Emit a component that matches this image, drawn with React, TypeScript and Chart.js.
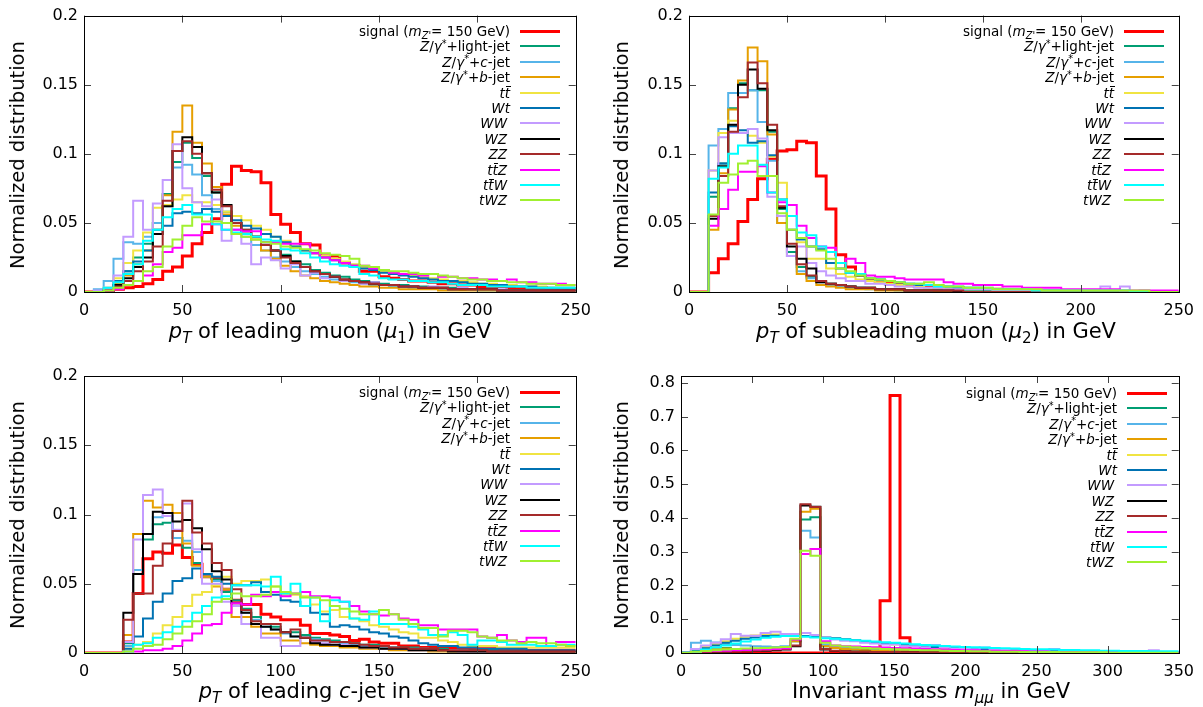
import React, { useEffect, useRef } from 'react';
import { Chart, registerables } from 'chart.js';

Chart.register(...registerables);
Chart.defaults.font.family = 'DejaVu Sans';
Chart.defaults.color = '#000';

// ---------- series meta ----------
const seriesNames = ['signal', 'Z/γ*+light-jet', 'Z/γ*+c-jet', 'Z/γ*+b-jet', 'tt̄', 'Wt', 'WW', 'WZ', 'ZZ', 'tt̄Z', 'tt̄W', 'tWZ'];
const seriesColors = ['#ff0000', '#009e73', '#56b4e9', '#e69f00', '#f0e442', '#0072b2', '#c39bff', '#000000', '#a52a2a', '#ff00ff', '#00ffff', '#a0f030'];

// ---------- ticks ----------
const xTicksPt = [0, 50, 100, 150, 200, 250];
const xTicksMass = [0, 50, 100, 150, 200, 250, 300, 350];
const yTicksPt = [0, 0.05, 0.1, 0.15, 0.2];
const yTicksMass = [0, 0.1, 0.2, 0.3, 0.4, 0.5, 0.6, 0.7, 0.8];
const binWidthPt = 5;
const binWidthMass = 7;

// ---------- pT of leading muon ----------
const sigMu1 = [0,0,0,0.002,0.003,0.004,0.006,0.009,0.015,0.018, 0.026,0.035,0.043,0.053,0.078,0.091,0.088,0.087,0.079,0.056, 0.049,0.043,0.035,0.034,0.026,0.026,0.021,0.019,0.015,0.015, 0.011,0.010,0.009,0.008,0.008,0.007,0.006,0.006,0.005,0.005, 0.004,0.004,0.004,0.003,0.003,0.003,0.003,0.002,0.002,0.002];
const zlMu1 = [0,0,0.002,0.007,0.015,0.025,0.035,0.05,0.071,0.094, 0.108,0.097,0.084,0.072,0.058,0.05,0.045,0.04,0.036,0.03, 0.027,0.022,0.02,0.016,0.014,0.012,0.011,0.009,0.008,0.007, 0.006,0.005,0.005,0.004,0.004,0.003,0.003,0.003,0.002,0.002, 0.002,0.002,0.001,0.001,0.001,0.001,0.001,0.001,0.001,0.001];
const zcMu1 = [0,0.002,0.008,0.024,0.036,0.035,0.04,0.05,0.062,0.09, 0.092,0.085,0.07,0.06,0.05,0.045,0.04,0.034,0.03,0.025, 0.022,0.018,0.015,0.013,0.011,0.009,0.008,0.007,0.006,0.005, 0.005,0.004,0.004,0.003,0.003,0.003,0.002,0.002,0.002,0.002, 0.001,0.001,0.001,0.001,0.001,0.001,0.001,0.001,0.001,0.001];
const zbMu1 = [0,0,0.002,0.006,0.012,0.02,0.03,0.045,0.07,0.116, 0.135,0.108,0.093,0.076,0.056,0.048,0.044,0.038,0.03,0.024, 0.019,0.015,0.012,0.01,0.008,0.007,0.006,0.005,0.004,0.004, 0.003,0.003,0.002,0.002,0.002,0.002,0.001,0.001,0.001,0.001, 0.001,0.001,0.001,0.001,0.001,0.001,0,0,0,0];
const ttMu1 = [0,0,0.003,0.01,0.021,0.03,0.043,0.061,0.063,0.067, 0.07,0.065,0.065,0.063,0.058,0.055,0.052,0.048,0.045,0.04, 0.037,0.033,0.03,0.028,0.026,0.024,0.022,0.02,0.018,0.016, 0.015,0.014,0.013,0.012,0.011,0.01,0.009,0.008,0.008,0.007, 0.006,0.006,0.005,0.005,0.004,0.004,0.004,0.003,0.003,0.003];
const wtMu1 = [0,0,0.002,0.008,0.015,0.022,0.03,0.045,0.048,0.057, 0.058,0.057,0.06,0.058,0.055,0.052,0.048,0.046,0.042,0.04, 0.036,0.033,0.03,0.028,0.025,0.023,0.021,0.019,0.017,0.016, 0.014,0.013,0.012,0.011,0.01,0.009,0.008,0.008,0.007,0.006, 0.006,0.005,0.005,0.004,0.004,0.004,0.003,0.003,0.003,0.003];
const wwMu1 = [0,0.001,0.003,0.012,0.04,0.066,0.045,0.064,0.081,0.107, 0.075,0.065,0.062,0.067,0.037,0.045,0.035,0.02,0.025,0.023, 0.017,0.02,0.012,0.014,0.01,0.011,0.008,0.008,0.006,0.007, 0.005,0.005,0.004,0.004,0.003,0.004,0.003,0.002,0.003,0.002, 0.002,0.002,0.002,0.001,0.001,0.001,0.001,0.001,0.001,0.001];
const wzMu1 = [0,0,0.001,0.005,0.01,0.018,0.025,0.042,0.062,0.102, 0.112,0.105,0.086,0.072,0.063,0.05,0.044,0.04,0.034,0.03, 0.026,0.022,0.018,0.015,0.013,0.011,0.009,0.008,0.007,0.006, 0.005,0.005,0.004,0.004,0.003,0.003,0.003,0.002,0.002,0.002, 0.002,0.002,0.001,0.001,0.001,0.001,0.001,0.001,0.001,0.001];
const zzMu1 = [0,0,0.001,0.004,0.008,0.015,0.022,0.033,0.066,0.102, 0.109,0.1,0.086,0.074,0.062,0.05,0.045,0.04,0.034,0.03, 0.025,0.021,0.018,0.015,0.013,0.011,0.009,0.008,0.007,0.006, 0.005,0.005,0.004,0.004,0.003,0.003,0.003,0.002,0.002,0.002, 0.002,0.002,0.001,0.001,0.001,0.001,0.001,0.001,0.001,0.001];
const ttzMu1 = [0,0,0.001,0.002,0.005,0.008,0.012,0.02,0.029,0.032, 0.041,0.041,0.049,0.049,0.045,0.045,0.044,0.044,0.036,0.036, 0.035,0.035,0.035,0.028,0.025,0.023,0.021,0.019,0.019,0.017, 0.016,0.014,0.013,0.013,0.012,0.013,0.011,0.011,0.01,0.01, 0.009,0.009,0.008,0.009,0.007,0.007,0.006,0.006,0.006,0.005];
const ttwMu1 = [0,0,0.003,0.007,0.013,0.02,0.037,0.045,0.054,0.06, 0.063,0.056,0.056,0.049,0.045,0.043,0.042,0.04,0.038,0.037, 0.031,0.03,0.028,0.025,0.022,0.02,0.019,0.018,0.013,0.012, 0.01,0.009,0.009,0.008,0.008,0.007,0.007,0.006,0.005,0.005, 0.005,0.004,0.004,0.004,0.004,0.003,0.003,0.003,0.003,0.003];
const twzMu1 = [0,0,0.001,0.003,0.005,0.008,0.015,0.018,0.033,0.038, 0.048,0.054,0.051,0.051,0.05,0.042,0.04,0.038,0.036,0.035, 0.033,0.032,0.031,0.03,0.028,0.027,0.026,0.024,0.019,0.018, 0.016,0.015,0.015,0.014,0.013,0.013,0.012,0.011,0.01,0.009, 0.009,0.008,0.008,0.007,0.007,0.006,0.006,0.006,0.005,0.005];

// ---------- pT of subleading muon ----------
const sigMu2 = [0,0,0.014,0.024,0.035,0.051,0.067,0.082,0.096,0.102, 0.103,0.109,0.108,0.084,0.06,0.027,0.018,0.012,0.009,0.008, 0.007,0.006,0.005,0.004,0.004,0.003,0.003,0.003,0.002,0.002, 0.002,0.002,0.001,0.001,0.001,0.001,0.001,0.001,0.001,0.001, 0.001,0.001,0,0,0,0,0,0,0,0];
const zlMu2 = [0,0,0.069,0.093,0.133,0.151,0.146,0.146,0.116,0.06, 0.029,0.018,0.011,0.008,0.006,0.005,0.004,0.003,0.003,0.002, 0.002,0.002,0.001,0.001,0.001,0.001,0.001,0.001,0.001,0.001, 0.001,0,0,0,0,0,0,0,0,0, 0,0,0,0,0,0,0,0,0,0];
const zcMu2 = [0,0,0.106,0.118,0.144,0.144,0.146,0.123,0.095,0.05, 0.026,0.015,0.01,0.007,0.005,0.004,0.003,0.003,0.002,0.002, 0.002,0.001,0.001,0.001,0.001,0.001,0.001,0,0,0, 0,0,0,0,0,0,0,0,0,0, 0,0,0,0,0,0,0,0,0,0];
const zbMu2 = [0,0,0.045,0.086,0.132,0.153,0.177,0.167,0.114,0.05, 0.026,0.013,0.008,0.005,0.004,0.003,0.002,0.002,0.002,0.001, 0.001,0.001,0.001,0.001,0.001,0,0,0,0,0, 0,0,0,0,0,0,0,0,0,0, 0,0,0,0,0,0,0,0,0,0];
const ttMu2 = [0,0,0.088,0.115,0.124,0.115,0.113,0.108,0.098,0.079, 0.045,0.036,0.024,0.024,0.017,0.013,0.011,0.009,0.008,0.007, 0.006,0.005,0.004,0.004,0.003,0.003,0.003,0.002,0.002,0.002, 0.002,0.001,0.001,0.001,0.001,0.001,0.001,0.001,0.001,0.001, 0,0,0,0,0,0,0,0,0,0];
const wtMu2 = [0,0,0.072,0.093,0.12,0.117,0.108,0.109,0.099,0.067, 0.045,0.038,0.033,0.031,0.021,0.017,0.014,0.012,0.01,0.009, 0.008,0.007,0.006,0.005,0.005,0.004,0.004,0.003,0.003,0.003, 0.002,0.002,0.002,0.002,0.001,0.001,0.001,0.001,0.001,0.001, 0.001,0.001,0,0,0,0,0,0,0,0];
const wwMu2 = [0,0,0.088,0.112,0.115,0.115,0.118,0.111,0.069,0.055, 0.026,0.033,0.021,0.015,0.012,0.01,0.008,0.008,0.006,0.006, 0.005,0.004,0.004,0.003,0.003,0.003,0.002,0.002,0.002,0.002, 0.002,0.001,0.001,0.001,0.001,0.001,0.001,0.001,0.001,0.001, 0.001,0.001,0.004,0,0.004,0,0.001,0,0,0];
const wzMu2 = [0,0,0.053,0.091,0.121,0.15,0.161,0.147,0.117,0.061, 0.033,0.024,0.017,0.007,0.006,0.005,0.004,0.003,0.003,0.002, 0.002,0.002,0.001,0.001,0.001,0.001,0.001,0,0,0, 0,0,0,0,0,0,0,0,0,0, 0,0,0,0,0,0,0,0,0,0];
const zzMu2 = [0,0,0.055,0.084,0.116,0.141,0.166,0.151,0.121,0.062, 0.035,0.02,0.012,0.008,0.006,0.005,0.004,0.003,0.003,0.002, 0.002,0.002,0.001,0.001,0.001,0.001,0.001,0.001,0,0, 0,0,0,0,0,0,0,0,0,0, 0,0,0,0,0,0,0,0,0,0];
const ttzMu2 = [0,0,0.048,0.06,0.074,0.087,0.087,0.091,0.072,0.065, 0.063,0.048,0.039,0.033,0.032,0.021,0.024,0.021,0.012,0.011, 0.011,0.01,0.009,0.009,0.009,0.009,0.007,0.006,0.006,0.005, 0.005,0.005,0.004,0.004,0.003,0.003,0.003,0.003,0.002,0.002, 0.002,0.002,0.002,0.002,0.001,0.001,0.001,0.001,0.001,0.001];
const ttwMu2 = [0,0,0.082,0.09,0.1,0.106,0.106,0.092,0.072,0.067, 0.055,0.043,0.041,0.033,0.029,0.021,0.014,0.013,0.01,0.009, 0.008,0.007,0.006,0.006,0.005,0.004,0.004,0.004,0.003,0.003, 0.003,0.002,0.002,0.002,0.002,0.001,0.001,0.001,0.001,0.001, 0.001,0.001,0.001,0.001,0.001,0,0,0,0,0];
const twzMu2 = [0,0,0.056,0.079,0.085,0.093,0.095,0.084,0.084,0.057, 0.045,0.039,0.033,0.03,0.024,0.017,0.015,0.012,0.01,0.009, 0.008,0.007,0.006,0.006,0.007,0.005,0.004,0.004,0.003,0.003, 0.003,0.002,0.002,0.002,0.002,0.002,0.001,0.001,0.001,0.001, 0.001,0.001,0.001,0.001,0.001,0.001,0.001,0,0,0];

// ---------- pT of leading c-jet ----------
const sigCjet = [0,0,0,0,0.008,0.043,0.068,0.073,0.072,0.078, 0.069,0.064,0.055,0.054,0.046,0.038,0.035,0.035,0.028,0.026, 0.024,0.024,0.02,0.014,0.014,0.013,0.012,0.009,0.01,0.008, 0.007,0.007,0.005,0.005,0.004,0.004,0.004,0.004,0.003,0.003, 0.003,0.003,0.003,0.003,0.002,0.002,0.002,0.002,0.002,0.002];
const zlCjet = [0,0,0,0,0.007,0.06,0.082,0.093,0.094,0.083, 0.076,0.065,0.055,0.053,0.044,0.038,0.032,0.026,0.021,0.019, 0.015,0.015,0.013,0.011,0.01,0.009,0.008,0.007,0.006,0.006, 0.005,0.004,0.004,0.004,0.003,0.003,0.003,0.002,0.002,0.002, 0.002,0.002,0.001,0.001,0.001,0.001,0.001,0.001,0.001,0.001];
const zcCjet = [0,0,0,0,0.005,0.06,0.086,0.098,0.099,0.083, 0.081,0.073,0.055,0.052,0.046,0.034,0.029,0.024,0.019,0.017, 0.014,0.012,0.011,0.01,0.009,0.008,0.007,0.006,0.005,0.005, 0.004,0.004,0.003,0.003,0.003,0.002,0.002,0.002,0.002,0.001, 0.001,0.001,0.001,0.001,0.001,0.001,0.001,0.001,0.001,0.001];
const zbCjet = [0,0,0,0,0.013,0.086,0.11,0.105,0.107,0.101, 0.079,0.063,0.055,0.048,0.046,0.026,0.026,0.019,0.014,0.014, 0.009,0.009,0.007,0.006,0.005,0.005,0.004,0.004,0.003,0.003, 0.003,0.002,0.002,0.002,0.002,0.001,0.001,0.001,0.001,0.001, 0.001,0.001,0.001,0.001,0.001,0,0,0,0,0];
const ttCjet = [0,0,0,0,0.003,0.006,0.008,0.014,0.02,0.026, 0.034,0.042,0.044,0.049,0.055,0.05,0.052,0.052,0.053,0.048, 0.042,0.042,0.041,0.035,0.03,0.031,0.026,0.025,0.023,0.02, 0.019,0.017,0.015,0.014,0.011,0.011,0.009,0.008,0.006,0.005, 0.005,0.005,0.004,0.004,0.004,0.004,0.004,0.004,0.004,0.004];
const wtCjet = [0,0,0,0,0.003,0.012,0.025,0.037,0.043,0.052, 0.054,0.061,0.057,0.055,0.05,0.049,0.049,0.051,0.044,0.042, 0.038,0.037,0.034,0.029,0.028,0.019,0.02,0.019,0.017,0.015, 0.014,0.012,0.011,0.009,0.007,0.006,0.005,0.005,0.004,0.004, 0.003,0.003,0.003,0.003,0.003,0.002,0.002,0.002,0.002,0.002];
const wwCjet = [0,0,0,0,0.008,0.082,0.114,0.118,0.099,0.089, 0.108,0.075,0.05,0.05,0.037,0.034,0.021,0.021,0.011,0.011, 0.005,0.005,0.011,0.008,0.007,0.006,0.006,0.005,0.004,0.004, 0.003,0.003,0.003,0.002,0.002,0.002,0.002,0.002,0.001,0.001, 0.001,0.001,0.001,0.001,0.001,0.001,0.001,0.001,0.001,0.001];
const wzCjet = [0,0,0,0,0.029,0.057,0.086,0.102,0.101,0.095, 0.096,0.09,0.075,0.059,0.053,0.036,0.029,0.021,0.019,0.017, 0.015,0.012,0.011,0.007,0.006,0.006,0.005,0.005,0.004,0.004, 0.003,0.003,0.003,0.002,0.002,0.002,0.002,0.001,0.001,0.001, 0.001,0.001,0.001,0.001,0.001,0.001,0.001,0.001,0.001,0.001];
const zzCjet = [0,0,0,0,0.024,0.043,0.043,0.063,0.079,0.088, 0.11,0.087,0.079,0.065,0.06,0.046,0.031,0.023,0.021,0.021, 0.015,0.017,0.011,0.009,0.009,0.008,0.008,0.007,0.006,0.005, 0.005,0.004,0.004,0.003,0.003,0.003,0.002,0.002,0.002,0.002, 0.002,0.001,0.001,0.001,0.001,0.001,0.001,0.001,0.001,0.001];
const ttzCjet = [0,0,0,0,0.001,0.001,0.002,0.002,0.003,0.005, 0.009,0.014,0.02,0.021,0.029,0.036,0.035,0.042,0.041,0.044, 0.041,0.043,0.044,0.041,0.041,0.04,0.037,0.034,0.03,0.028, 0.027,0.028,0.025,0.024,0.02,0.02,0.017,0.017,0.017,0.017, 0.012,0.011,0.013,0.009,0.008,0.011,0.011,0.005,0.008,0.008];
const ttwCjet = [0,0,0,0,0.001,0.006,0.007,0.011,0.015,0.019, 0.023,0.029,0.034,0.04,0.041,0.049,0.049,0.049,0.048,0.055, 0.043,0.05,0.034,0.04,0.023,0.038,0.037,0.025,0.024,0.03, 0.021,0.021,0.021,0.019,0.017,0.013,0.013,0.015,0.013,0.006, 0.009,0.009,0.008,0.006,0.006,0.006,0.005,0.005,0.006,0.006];
const twzCjet = [0,0,0,0,0.001,0.003,0.005,0.006,0.01,0.014, 0.019,0.023,0.028,0.037,0.039,0.043,0.041,0.041,0.042,0.048, 0.044,0.043,0.04,0.04,0.038,0.034,0.032,0.03,0.028,0.028, 0.031,0.028,0.024,0.021,0.018,0.018,0.012,0.016,0.016,0.015, 0.012,0.011,0.009,0.009,0.007,0.008,0.007,0.007,0.006,0.005];

// ---------- invariant mass ----------
const sigMass = [0,0,0,0,0,0,0,0,0,0, 0,0,0,0,0,0,0,0,0,0.002, 0.155,0.762,0.045,0.002,0,0,0,0,0,0, 0,0,0,0,0,0,0,0,0,0, 0,0,0,0,0,0,0,0,0,0];
const zlMass = [0.001,0.008,0.012,0.014,0.015,0.012,0.01,0.012,0.011,0.012, 0.015,0.035,0.395,0.402,0.02,0.015,0.012,0.01,0.009,0.008, 0.007,0.006,0.006,0.005,0.005,0.004,0.004,0.003,0.003,0.003, 0.002,0.002,0.002,0.002,0.002,0.001,0.001,0.001,0.001,0.001, 0.001,0.001,0.001,0.001,0.001,0.001,0.001,0.001,0.001,0.001];
const zcMass = [0.002,0.03,0.036,0.031,0.026,0.024,0.022,0.02,0.019,0.018, 0.02,0.04,0.362,0.342,0.025,0.021,0.018,0.016,0.014,0.013, 0.012,0.011,0.01,0.009,0.008,0.007,0.007,0.006,0.005,0.005, 0.004,0.004,0.004,0.003,0.003,0.003,0.002,0.002,0.002,0.002, 0.002,0.001,0.001,0.001,0.001,0.001,0.001,0.001,0.001,0.001];
const zbMass = [0.001,0.006,0.01,0.012,0.013,0.012,0.011,0.01,0.01,0.011, 0.014,0.035,0.418,0.427,0.02,0.015,0.012,0.01,0.008,0.007, 0.006,0.005,0.005,0.004,0.004,0.003,0.003,0.003,0.002,0.002, 0.002,0.002,0.001,0.001,0.001,0.001,0.001,0.001,0.001,0.001, 0.001,0.001,0.001,0,0,0,0,0,0,0];
const ttMass = [0.001,0.008,0.018,0.027,0.035,0.042,0.048,0.052,0.054,0.055, 0.054,0.052,0.05,0.048,0.045,0.042,0.039,0.036,0.033,0.03, 0.027,0.025,0.023,0.021,0.019,0.017,0.016,0.014,0.013,0.012, 0.011,0.01,0.009,0.008,0.008,0.007,0.006,0.006,0.005,0.005, 0.004,0.004,0.004,0.003,0.003,0.003,0.003,0.002,0.002,0.002];
const wtMass = [0.001,0.006,0.014,0.022,0.03,0.036,0.042,0.046,0.05,0.051, 0.051,0.05,0.05,0.048,0.046,0.044,0.041,0.038,0.035,0.032, 0.029,0.027,0.025,0.022,0.02,0.018,0.017,0.015,0.014,0.013, 0.012,0.011,0.01,0.009,0.008,0.008,0.007,0.006,0.006,0.005, 0.005,0.004,0.004,0.004,0.003,0.003,0.003,0.003,0.002,0.002];
const wwMass = [0.001,0.012,0.022,0.03,0.041,0.056,0.051,0.051,0.059,0.063, 0.056,0.056,0.059,0.053,0.046,0.04,0.036,0.035,0.03,0.028, 0.025,0.025,0.02,0.02,0.017,0.024,0.017,0.013,0.012,0.011, 0.016,0.009,0.009,0.008,0.007,0.007,0.006,0.012,0.005,0.005, 0.004,0.004,0.004,0.003,0.003,0.003,0.003,0.008,0.002,0.002];
const wzMass = [0,0.002,0.003,0.004,0.004,0.005,0.005,0.006,0.007,0.008, 0.01,0.02,0.437,0.433,0.01,0.006,0.005,0.004,0.004,0.003, 0.003,0.003,0.002,0.002,0.002,0.002,0.001,0.001,0.001,0.001, 0.001,0.001,0.001,0.001,0.001,0.001,0.001,0.001,0.001,0.001, 0,0,0,0,0,0,0,0,0,0];
const zzMass = [0,0.002,0.003,0.004,0.004,0.005,0.006,0.007,0.008,0.01, 0.012,0.022,0.44,0.432,0.012,0.007,0.005,0.004,0.004,0.003, 0.003,0.003,0.002,0.002,0.002,0.002,0.002,0.001,0.001,0.001, 0.001,0.001,0.001,0.001,0.001,0.001,0.001,0.001,0.001,0.001, 0.001,0,0,0,0,0,0,0,0,0];
const ttzMass = [0,0.003,0.005,0.006,0.007,0.008,0.009,0.01,0.011,0.012, 0.014,0.04,0.293,0.308,0.035,0.022,0.02,0.019,0.018,0.017, 0.016,0.015,0.014,0.013,0.012,0.011,0.01,0.009,0.008,0.008, 0.007,0.007,0.006,0.006,0.005,0.005,0.005,0.004,0.004,0.004, 0.003,0.003,0.003,0.003,0.002,0.002,0.002,0.002,0.002,0.002];
const ttwMass = [0.001,0.004,0.01,0.016,0.022,0.028,0.034,0.04,0.045,0.048, 0.05,0.05,0.048,0.046,0.044,0.042,0.04,0.038,0.036,0.034, 0.032,0.03,0.028,0.026,0.024,0.022,0.021,0.019,0.018,0.017, 0.016,0.015,0.014,0.013,0.012,0.011,0.011,0.01,0.009,0.009, 0.008,0.008,0.007,0.007,0.006,0.006,0.006,0.005,0.005,0.005];
const twzMass = [0,0.004,0.006,0.008,0.01,0.012,0.013,0.014,0.015,0.016, 0.018,0.042,0.303,0.288,0.03,0.022,0.019,0.017,0.015,0.013, 0.012,0.011,0.01,0.009,0.008,0.008,0.007,0.006,0.006,0.005, 0.005,0.004,0.004,0.004,0.003,0.003,0.003,0.003,0.002,0.002, 0.002,0.002,0.002,0.001,0.001,0.001,0.001,0.001,0.001,0.001];

// ---------- helpers ----------
// Bin i spans [i*bw, (i+1)*bw]; with stepped 'before' the value of a point is held until the next point.
const toSteps = (vals: number[], bw: number) =>
  vals.map((v, i) => ({ x: i * bw, y: v })).concat([{ x: vals.length * bw, y: vals[vals.length - 1] }]);

const fmt = (v: number) => String(+Number(v).toFixed(2));

const framePlugin = {
  id: 'gnuFrame',
  afterDatasetsDraw(chart: any) {
    const { ctx, chartArea, scales } = chart;
    const { left, right, top, bottom } = chartArea;
    const L = 7;
    ctx.save();
    ctx.lineWidth = 1;
    ctx.strokeStyle = '#444';
    ctx.beginPath();
    scales.x.ticks.forEach((t: any) => {
      const px = Math.round(scales.x.getPixelForValue(t.value)) + 0.5;
      ctx.moveTo(px, bottom); ctx.lineTo(px, bottom - L);
      ctx.moveTo(px, top); ctx.lineTo(px, top + L);
    });
    scales.y.ticks.forEach((t: any) => {
      const py = Math.round(scales.y.getPixelForValue(t.value)) + 0.5;
      ctx.moveTo(left, py); ctx.lineTo(left + L, py);
      ctx.moveTo(right, py); ctx.lineTo(right - L, py);
    });
    ctx.stroke();
    ctx.strokeStyle = '#000';
    ctx.strokeRect(Math.round(left) + 0.5, Math.round(top) + 0.5, Math.round(right - left), Math.round(bottom - top));
    ctx.restore();
  },
};

type PanelDef = {
  series: number[][];
  bw: number;
  xMax: number;
  yMax: number;
  xTicks: number[];
  yTicks: number[];
  box: { cx: number; cy: number; cw: number; ch: number };
  area: { L: number; T: number; R: number; B: number };
  legend: { textRight: number; sampleLeft: number; top: number };
  xTitle: React.ReactNode;
  xTitlePos: [number, number];
  yTitlePos: [number, number];
};

const sub = (c: React.ReactNode) => <span style={{ fontSize: '72%', position: 'relative', top: '0.3em' }}>{c}</span>;
const sup = (c: React.ReactNode) => <span style={{ fontSize: '72%', position: 'relative', top: '-0.45em' }}>{c}</span>;
const tbar = (
  <span style={{ position: 'relative' }}>
    t
    <span style={{ position: 'absolute', left: '0.08em', right: '-0.05em', top: '0.12em', borderTop: '1px solid #000' }} />
  </span>
);

const legendLabels: React.ReactNode[] = [
  <>signal (<i>m</i>{sub(<i>Z'</i>)}= 150 GeV)</>,
  <><i>Z</i>/<i>γ</i>{sup('*')}+light-jet</>,
  <><i>Z</i>/<i>γ</i>{sup('*')}+<i>c</i>-jet</>,
  <><i>Z</i>/<i>γ</i>{sup('*')}+<i>b</i>-jet</>,
  <i>t{tbar}</i>,
  <i>Wt</i>,
  <i>WW</i>,
  <i>WZ</i>,
  <i>ZZ</i>,
  <i>t{tbar}Z</i>,
  <i>t{tbar}W</i>,
  <i>tWZ</i>,
];

const panels: PanelDef[] = [
  {
    series: [sigMu1, zlMu1, zcMu1, zbMu1, ttMu1, wtMu1, wwMu1, wzMu1, zzMu1, ttzMu1, ttwMu1, twzMu1],
    bw: binWidthPt, xMax: 250, yMax: 0.2, xTicks: xTicksPt, yTicks: yTicksPt,
    box: { cx: 0, cy: 0, cw: 600, ch: 350 }, area: { L: 84, T: 15, R: 577, B: 292 },
    legend: { textRight: 510, sampleLeft: 520, top: 31 },
    xTitle: <><i>p</i>{sub(<i>T</i>)} of leading muon (<i>μ</i>{sub('1')}) in GeV</>,
    xTitlePos: [330, 332], yTitlePos: [18, 155],
  },
  {
    series: [sigMu2, zlMu2, zcMu2, zbMu2, ttMu2, wtMu2, wwMu2, wzMu2, zzMu2, ttzMu2, ttwMu2, twzMu2],
    bw: binWidthPt, xMax: 250, yMax: 0.2, xTicks: xTicksPt, yTicks: yTicksPt,
    box: { cx: 600, cy: 0, cw: 603, ch: 350 }, area: { L: 689, T: 15, R: 1183, B: 292 },
    legend: { textRight: 1114, sampleLeft: 1124, top: 31 },
    xTitle: <><i>p</i>{sub(<i>T</i>)} of subleading muon (<i>μ</i>{sub('2')}) in GeV</>,
    xTitlePos: [936, 332], yTitlePos: [622, 155],
  },
  {
    series: [sigCjet, zlCjet, zcCjet, zbCjet, ttCjet, wtCjet, wwCjet, wzCjet, zzCjet, ttzCjet, ttwCjet, twzCjet],
    bw: binWidthPt, xMax: 250, yMax: 0.2, xTicks: xTicksPt, yTicks: yTicksPt,
    box: { cx: 0, cy: 355, cw: 600, ch: 352 }, area: { L: 84, T: 376, R: 577, B: 653 },
    legend: { textRight: 510, sampleLeft: 520, top: 392 },
    xTitle: <><i>p</i>{sub(<i>T</i>)} of leading <i>c</i>-jet in GeV</>,
    xTitlePos: [330, 692], yTitlePos: [18, 515],
  },
  {
    series: [sigMass, zlMass, zcMass, zbMass, ttMass, wtMass, wwMass, wzMass, zzMass, ttzMass, ttwMass, twzMass],
    bw: binWidthMass, xMax: 350, yMax: 0.82, xTicks: xTicksMass, yTicks: yTicksMass,
    box: { cx: 600, cy: 355, cw: 603, ch: 352 }, area: { L: 681, T: 376, R: 1182, B: 653 },
    legend: { textRight: 1117, sampleLeft: 1127, top: 393 },
    xTitle: <>Invariant mass <i>m</i>{sub(<i>μμ</i>)} in GeV</>,
    xTitlePos: [931, 692], yTitlePos: [622, 515],
  },
];

function makeConfig(p: PanelDef): any {
  const { box, area } = p;
  return {
    type: 'line',
    data: {
      datasets: p.series.map((vals, i) => ({
        label: seriesNames[i],
        data: toSteps(vals, p.bw),
        borderColor: seriesColors[i],
        backgroundColor: seriesColors[i],
        borderWidth: i === 0 ? 3 : 2,
        stepped: 'before',
        pointRadius: 0,
        fill: false,
        order: 11 - i,
      })),
    },
    options: {
      responsive: false,
      animation: false,
      events: [],
      layout: { padding: { left: 0, top: area.T - box.cy, right: box.cx + box.cw - area.R, bottom: 0 } },
      plugins: { legend: { display: false }, tooltip: { enabled: false }, title: { display: false } },
      scales: {
        x: {
          type: 'linear', min: 0, max: p.xMax,
          grid: { display: false, drawTicks: false },
          border: { display: false },
          ticks: { padding: 9, color: '#000', font: { size: 16 }, maxRotation: 0, autoSkip: false, callback: (v: number) => fmt(v) },
          afterBuildTicks: (s: any) => { s.ticks = p.xTicks.map((v) => ({ value: v })); },
          afterFit: (s: any) => { s.height = box.cy + box.ch - area.B; },
        },
        y: {
          type: 'linear', min: 0, max: p.yMax,
          grid: { display: false, drawTicks: false },
          border: { display: false },
          ticks: { padding: 6, color: '#000', font: { size: 16 }, autoSkip: false, callback: (v: number) => fmt(v) },
          afterBuildTicks: (s: any) => { s.ticks = p.yTicks.map((v) => ({ value: v })); },
          afterFit: (s: any) => { s.width = area.L - box.cx; },
        },
      },
    },
    plugins: [framePlugin],
  };
}

function Panel({ p }: { p: PanelDef }) {
  const ref = useRef<HTMLCanvasElement>(null);
  useEffect(() => {
    const chart = new Chart(ref.current as HTMLCanvasElement, makeConfig(p));
    return () => chart.destroy();
  }, []);
  const { box, legend } = p;
  const rowH = 15.4;
  return (
    <>
      <canvas
        ref={ref}
        width={box.cw}
        height={box.ch}
        style={{ position: 'absolute', left: box.cx, top: box.cy, width: box.cw, height: box.ch }}
      />
      {legendLabels.map((lab, i) => {
        const y = legend.top + i * rowH;
        const lw = i === 0 ? 3 : 2;
        return (
          <React.Fragment key={i}>
            <div
              style={{
                position: 'absolute', left: legend.textRight - 300, width: 300, top: y - 9, height: 18,
                lineHeight: '18px', textAlign: 'right', fontSize: 13.5, whiteSpace: 'nowrap', color: '#000',
                paddingRight: i >= 6 ? 3 : 0, boxSizing: 'border-box',
              }}
            >
              {lab}
            </div>
            <div style={{ position: 'absolute', left: legend.sampleLeft, top: y - lw / 2, width: 40, height: lw, background: seriesColors[i] }} />
          </React.Fragment>
        );
      })}
      <div
        style={{
          position: 'absolute', left: p.xTitlePos[0], top: p.xTitlePos[1], transform: 'translate(-50%, -50%)',
          whiteSpace: 'nowrap', fontSize: 21, lineHeight: '24px', color: '#000',
        }}
      >
        {p.xTitle}
      </div>
      <div
        style={{
          position: 'absolute', left: p.yTitlePos[0], top: p.yTitlePos[1], transform: 'translate(-50%, -50%) rotate(-90deg)',
          whiteSpace: 'nowrap', fontSize: 19.5, lineHeight: '22px', color: '#000',
        }}
      >
        Normalized distribution
      </div>
    </>
  );
}

export default function App() {
  return (
    <div
      style={{
        position: 'absolute', left: 0, top: 0, width: 1203, height: 707, overflow: 'hidden',
        background: '#fff', fontFamily: "'DejaVu Sans', sans-serif",
      }}
    >
      {panels.map((p, i) => (
        <Panel key={i} p={p} />
      ))}
    </div>
  );
}
